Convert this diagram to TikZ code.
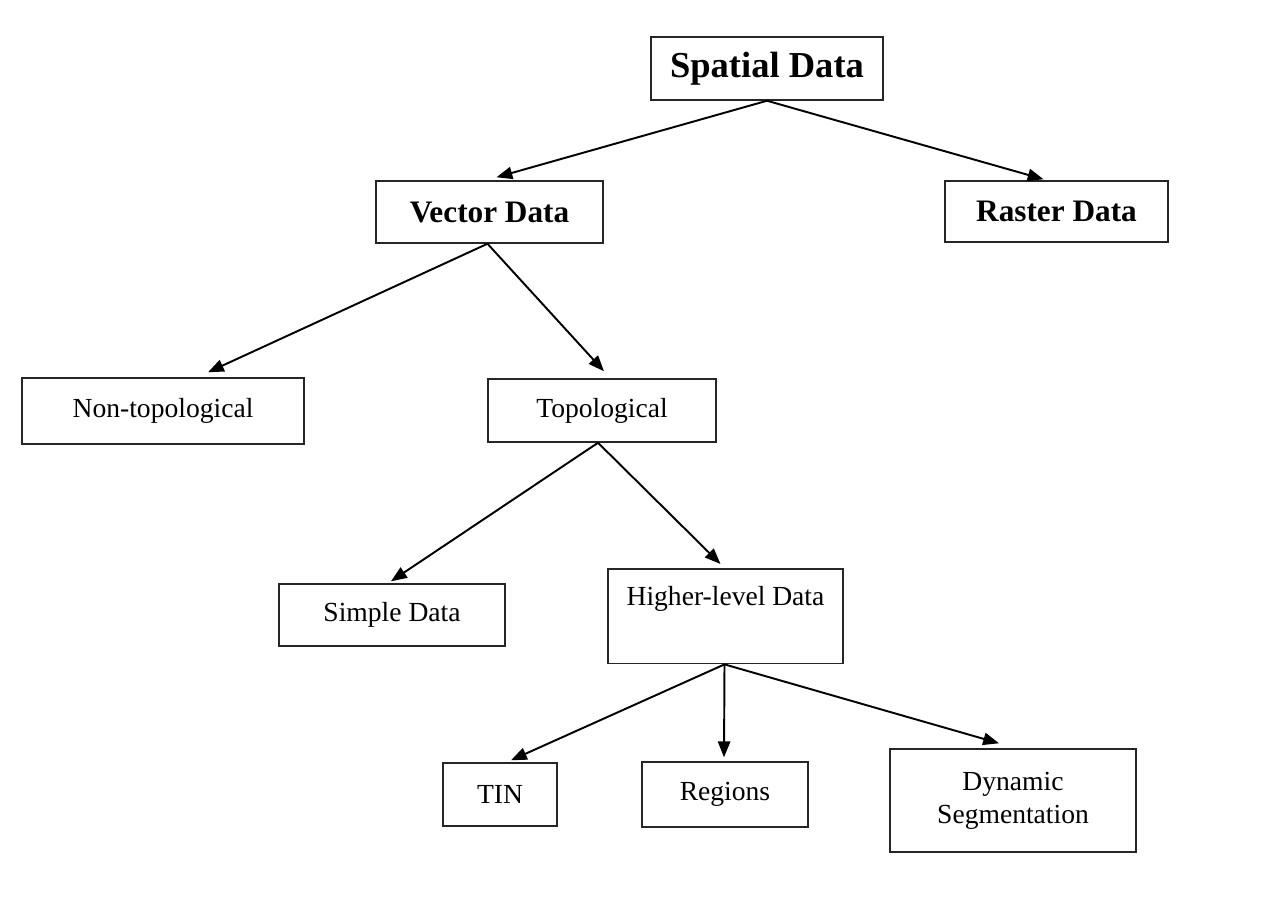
\documentclass[tikz,border=0pt]{standalone}
\usepackage{fontspec}
\setmainfont{Liberation Serif}
\usetikzlibrary{shapes.geometric, arrows.meta}
\tikzstyle{box} = [rectangle, draw=black!85, line width=0.85pt, inner sep=0, text centered, font=\fontsize{15.7}{18.7}\selectfont]
\tikzstyle{bigbox} = [box, font=\fontsize{17.8}{21}\selectfont\bfseries]
\tikzstyle{arrow} = [line width=1.1pt,-{Triangle[length=9pt,width=7pt]}]
\begin{document}
\begin{tikzpicture}[x=0.02cm,y=-0.02cm]
\useasboundingbox (0,0) rectangle (1274,900);

% top levels
\node[bigbox, font=\fontsize{20.8}{24}\selectfont\bfseries, minimum width=4.64cm, minimum height=1.26cm] (spatial) at (767,68.5) {Spatial Data};
\node[bigbox, minimum width=4.54cm, minimum height=1.24cm] (vector) at (489.5,212) {Vector Data};
\node[bigbox, minimum width=4.46cm, minimum height=1.22cm] (raster) at (1056.5,211.5) {Raster Data};

\node[box, minimum width=5.64cm, minimum height=1.32cm] (nontopo) at (163,411) {Non-topological};
\node[box, minimum width=4.56cm, minimum height=1.26cm] (topo) at (602,410.5) {Topological};

\node[box, minimum width=4.52cm, minimum height=1.24cm] (simple) at (392,615) {Simple Data};
\node[box, anchor=north, minimum width=4.7cm, text height=21pt, text depth=33pt] (higher) at (725.5,568) {Higher-level Data};

% leaves
\node[box, minimum width=2.28cm, minimum height=1.26cm] (tin) at (500,794.5) {TIN};
\node[box, minimum width=3.32cm, minimum height=1.30cm] (regions) at (725,794.5) {Regions};
\node[box, align=center, minimum width=4.92cm, minimum height=2.06cm] (dynseg) at (1013,800.5) {Dynamic\\Segmentation};

\draw[arrow] (spatial.south) -- ([shift={(7,-3)}]vector.north);
\draw[arrow] (spatial.south) -- ([shift={(-13,-1)}]raster.north);
\draw[arrow] ([xshift=-0.04cm]vector.south) -- ([shift={(45,-5)}]nontopo.north);
\draw[arrow] ([xshift=-0.04cm]vector.south) -- ([shift={(2,-7)}]topo.north);
\draw[arrow] ([xshift=-0.08cm]topo.south) -- ([shift={(-1,-2)}]simple.north);
\draw[arrow] ([xshift=-0.08cm]topo.south) -- ([shift={(-5,-4)}]higher.north);
\draw[arrow] ([xshift=-0.02cm]higher.south) -- ([shift={(11,-2)}]tin.north);
\draw[arrow] ([xshift=-0.02cm]higher.south) -- ([shift={(-1,-4)}]regions.north);
\draw[arrow] ([xshift=-0.02cm]higher.south) -- ([shift={(-14,-5)}]dynseg.north);
\end{tikzpicture}
\end{document}
